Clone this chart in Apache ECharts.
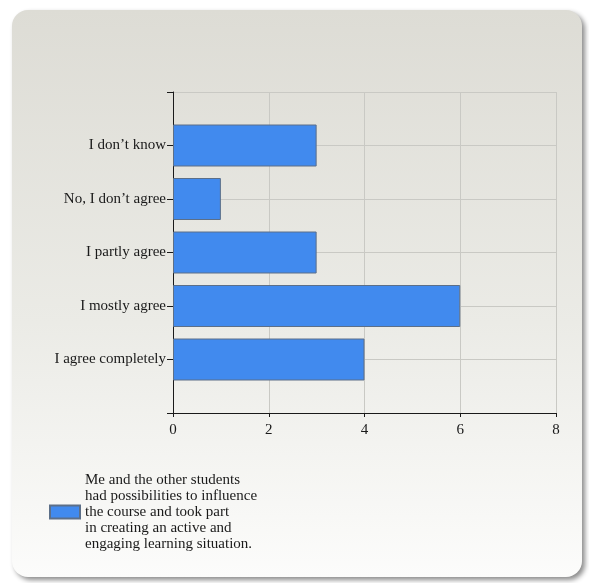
<!DOCTYPE html>
<html>
<head>
<meta charset="utf-8">
<script src="https://cdn.jsdelivr.net/npm/echarts@6/dist/echarts.min.js"></script>
<style>
html,body{margin:0;padding:0;background:#ffffff;}
#chart{width:589px;height:583px;}
</style>
</head>
<body>
<div id="chart"></div>
<script>
// Categories listed bottom-to-top (as drawn on the y axis)
var categories = ['I agree completely', 'I mostly agree', 'I partly agree', 'No, I don\u2019t agree', 'I don\u2019t know'];
var values = [4, 6, 3, 1, 3];
var seriesName = 'Me and the other students\nhad possibilities to influence\nthe course and took part\nin creating an active and\nengaging learning situation.';
var xTicks = [0, 2, 4, 6, 8];

// The y axis leaves one empty slot above and below the categories
var yCats = [''].concat(categories).concat(['']);
var yVals = [null].concat(values).concat([null]);

var chart = echarts.init(document.getElementById('chart'), null, {renderer: 'canvas'});
var font = '"Liberation Serif", "Times New Roman", serif';
chart.setOption({
  animation: false,
  backgroundColor: '#ffffff',
  graphic: [{
    type: 'rect',
    z: -10,
    silent: true,
    shape: {x: 12, y: 10, width: 570, height: 567, r: 16},
    style: {
      fill: new echarts.graphic.LinearGradient(0, 0, 0, 1, [
        {offset: 0, color: '#dddcd5'},
        {offset: 0.55, color: '#ebebe6'},
        {offset: 1, color: '#fcfcfb'}
      ]),
      shadowBlur: 5,
      shadowOffsetX: 3,
      shadowOffsetY: 3,
      shadowColor: 'rgba(0,0,0,0.45)'
    }
  }],
  grid: {left: 173, top: 92, width: 383, height: 321, containLabel: false},
  legend: {
    left: 49,
    top: 472,
    padding: 0,
    orient: 'vertical',
    itemWidth: 30,
    itemHeight: 13,
    itemGap: 5,
    icon: 'rect',
    textStyle: {fontFamily: font, fontSize: 15, color: '#1a1a1a', lineHeight: 16},
    data: [seriesName]
  },
  xAxis: {
    type: 'value',
    min: xTicks[0],
    max: xTicks[xTicks.length - 1],
    interval: 2,
    axisLine: {show: true, lineStyle: {color: '#1a1a1a', width: 1}},
    axisTick: {show: true, length: 4, lineStyle: {color: '#1a1a1a'}},
    axisLabel: {fontFamily: font, fontSize: 15, color: '#1a1a1a', margin: 10},
    splitLine: {show: true, lineStyle: {color: '#c9c9c4', width: 1}}
  },
  yAxis: {
    type: 'category',
    data: yCats,
    boundaryGap: false,
    axisLine: {show: true, lineStyle: {color: '#1a1a1a', width: 1}},
    axisTick: {show: true, length: 6, alignWithLabel: true, lineStyle: {color: '#1a1a1a'}},
    axisLabel: {fontFamily: font, fontSize: 15, color: '#1a1a1a', margin: 7},
    splitLine: {show: true, lineStyle: {color: '#c9c9c4', width: 1}}
  },
  series: [{
    name: seriesName,
    type: 'bar',
    data: yVals,
    barWidth: 42,
    itemStyle: {color: '#418aee', borderColor: '#5c6f88', borderWidth: 1}
  }]
});
</script>
</body>
</html>
